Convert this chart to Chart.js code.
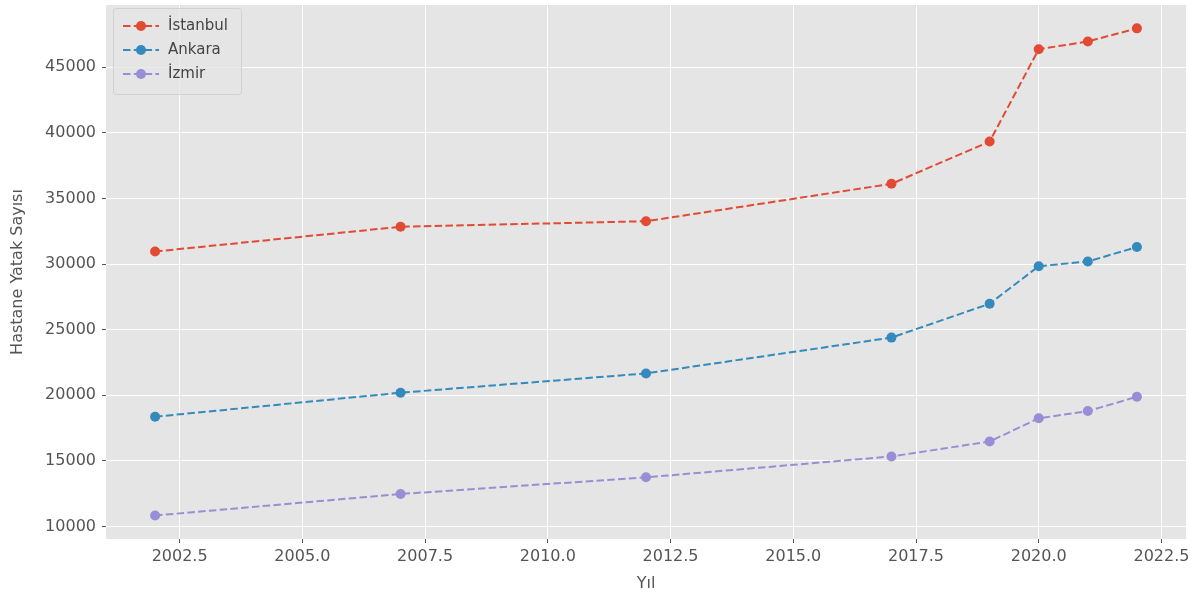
<!DOCTYPE html>
<html>
<head>
<meta charset="utf-8">
<script src="https://cdn.jsdelivr.net/npm/chart.js@4/dist/chart.umd.min.js"></script>
<style>
  html, body { margin: 0; padding: 0; background: #ffffff; }
  #wrap { width: 1197px; height: 600px; position: relative; }
</style>
</head>
<body>
<div id="wrap"><canvas id="c" width="1197" height="600"></canvas></div>
<script>
// ---- data ----
const years = [2002, 2007, 2012, 2017, 2019, 2020, 2021, 2022];
const istanbul = [30960, 32850, 33270, 36120, 39340, 46380, 46970, 47970];
const ankara   = [18370, 20200, 21670, 24400, 26980, 29840, 30200, 31300];
const izmir    = [10840, 12480, 13750, 15340, 16480, 18250, 18800, 19890];
const seriesNames = ['İstanbul', 'Ankara', 'İzmir'];
const xTickValues = [2002.5, 2005.0, 2007.5, 2010.0, 2012.5, 2015.0, 2017.5, 2020.0, 2022.5];
const yTickValues = [10000, 15000, 20000, 25000, 30000, 35000, 40000, 45000];
const xTitle = 'Yıl';
const yTitle = 'Hastane Yatak Sayısı';

const colors = ['#E24A33', '#348ABD', '#988ED5'];
const FONT = 'DejaVu Sans';
const DASH = [7.5, 3.3];

function pts(vals) { return years.map((y, i) => ({ x: y, y: vals[i] })); }

function mkDataset(label, vals, color) {
  return {
    label: label,
    data: pts(vals),
    borderColor: color,
    backgroundColor: color,
    pointBackgroundColor: color,
    pointBorderColor: color,
    pointBorderWidth: 0,
    pointRadius: 5,
    pointHoverRadius: 5,
    borderWidth: 2,
    borderDash: DASH,
    tension: 0,
    fill: false
  };
}

const bgPlugin = {
  id: 'bg',
  beforeDraw(chart) {
    const { ctx, chartArea: a } = chart;
    ctx.save();
    ctx.fillStyle = '#E5E5E5';
    ctx.fillRect(a.left, a.top, a.right - a.left, a.bottom - a.top);
    ctx.restore();
  }
};

const legendPlugin = {
  id: 'mplLegend',
  afterDatasetsDraw(chart) {
    const { ctx, chartArea: a } = chart;
    const x0 = a.left + 7, y0 = a.top + 3;
    const w = 128, h = 86;
    ctx.save();
    ctx.fillStyle = 'rgba(229,229,229,0.8)';
    ctx.strokeStyle = 'rgba(204,204,204,0.8)';
    ctx.lineWidth = 1;
    ctx.beginPath();
    if (ctx.roundRect) ctx.roundRect(x0 + 0.5, y0 + 0.5, w, h, 3); else ctx.rect(x0 + 0.5, y0 + 0.5, w, h);
    ctx.fill();
    ctx.stroke();
    chart.data.datasets.forEach((ds, i) => {
      const cy = y0 + 18 + i * 24;
      const lx1 = x0 + 10, lx2 = x0 + 46;
      ctx.strokeStyle = ds.borderColor;
      ctx.lineWidth = 2;
      ctx.setLineDash(DASH);
      ctx.beginPath();
      ctx.moveTo(lx1, cy);
      ctx.lineTo(lx2, cy);
      ctx.stroke();
      ctx.setLineDash([]);
      ctx.fillStyle = ds.borderColor;
      ctx.beginPath();
      ctx.arc((lx1 + lx2) / 2, cy, 5, 0, Math.PI * 2);
      ctx.fill();
      ctx.fillStyle = '#444444';
      ctx.font = '15px "' + FONT + '"';
      ctx.textBaseline = 'middle';
      ctx.textAlign = 'left';
      ctx.fillText(ds.label, x0 + 55, cy);
    });
    ctx.restore();
  }
};

new Chart(document.getElementById('c'), {
  type: 'line',
  data: {
    datasets: [
      mkDataset(seriesNames[0], istanbul, colors[0]),
      mkDataset(seriesNames[1], ankara, colors[1]),
      mkDataset(seriesNames[2], izmir, colors[2])
    ]
  },
  plugins: [bgPlugin, legendPlugin],
  options: {
    responsive: false,
    animation: false,
    devicePixelRatio: 1,
    layout: { padding: { left: 0, right: 11, top: 4, bottom: 0 } },
    plugins: { legend: { display: false }, tooltip: { enabled: false } },
    scales: {
      x: {
        type: 'linear',
        min: 2001,
        max: 2023,
        afterBuildTicks(scale) { scale.ticks = xTickValues.map(v => ({ value: v })); },
        afterFit(scale) { scale.height = 61; scale.paddingLeft = 0; scale.paddingRight = 0; },
        grid: { color: '#FFFFFF', lineWidth: 1, tickColor: '#555555', tickLength: 4, drawTicks: true },
        border: { display: false },
        ticks: {
          font: { family: FONT, size: 16 },
          color: '#555555',
          padding: 4,
          maxRotation: 0,
          autoSkip: false,
          callback: (v) => Number(v).toFixed(1)
        },
        title: {
          display: true,
          text: xTitle,
          color: '#555555',
          font: { family: FONT, size: 16 },
          padding: { top: 0, bottom: 7 }
        }
      },
      y: {
        type: 'linear',
        min: 9050,
        max: 49750,
        afterBuildTicks(scale) { scale.ticks = yTickValues.map(v => ({ value: v })); },
        afterFit(scale) { scale.width = 106; scale.paddingTop = 0; scale.paddingBottom = 0; },
        grid: { color: '#FFFFFF', lineWidth: 1, tickColor: '#555555', tickLength: 4, drawTicks: true },
        border: { display: false },
        ticks: {
          font: { family: FONT, size: 16 },
          color: '#555555',
          padding: 6,
          autoSkip: false,
          callback: (v) => String(v)
        },
        title: {
          display: true,
          text: yTitle,
          color: '#555555',
          font: { family: FONT, size: 16 },
          padding: { top: 8, bottom: 0 }
        }
      }
    }
  }
});
</script>
</body>
</html>
